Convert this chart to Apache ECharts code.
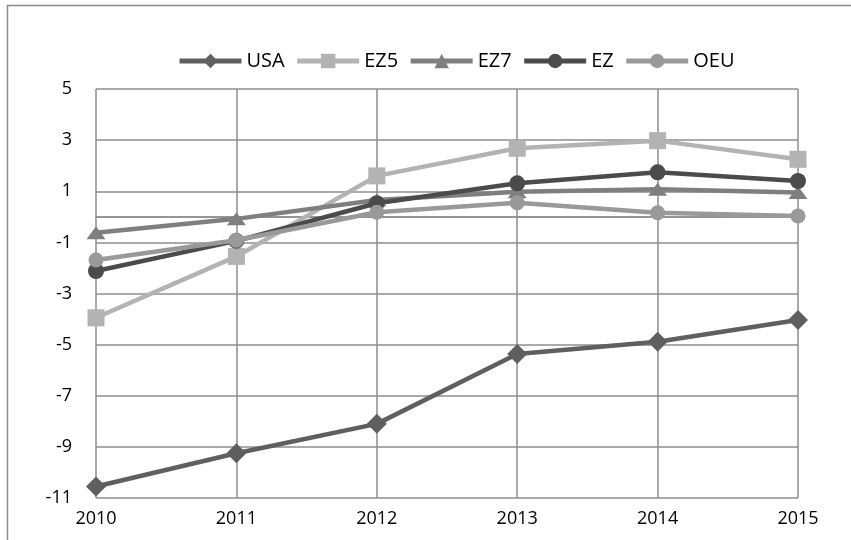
<!DOCTYPE html>
<html>
<head>
<meta charset="utf-8">
<script src="https://cdn.jsdelivr.net/npm/echarts@6/dist/echarts.min.js"></script>
<style>
  html, body { margin: 0; padding: 0; background: #fff; }
  #chart { width: 851px; height: 540px; }
</style>
</head>
<body>
<div id="chart"></div>
<script>
// Years on the horizontal axis
const years = ['2010', '2011', '2012', '2013', '2014', '2015'];

// Balance values per region
const usa = [-10.55, -9.25, -8.1, -5.37, -4.89, -4.04];
const ez5 = [-3.95, -1.55, 1.6, 2.68, 2.98, 2.25];
const ez7 = [-0.62, -0.08, 0.66, 0.98, 1.08, 0.95];
const ez  = [-2.12, -0.94, 0.53, 1.31, 1.74, 1.4];
const oeu = [-1.69, -0.92, 0.18, 0.55, 0.16, 0.03];

const seriesNames = ['USA', 'EZ5', 'EZ7', 'EZ', 'OEU'];
const seriesData = [usa, ez5, ez7, ez, oeu];
const seriesColors = ['#5f5f5f', '#b3b3b3', '#7f7f7f', '#4b4b4b', '#999999'];
const seriesSymbols = ['diamond', 'rect', 'triangle', 'circle', 'circle'];
const symbolSizes = [20, 17, [19, 13], 16, 15];

const fontFamily = '"Open Sans", "Noto Sans", sans-serif';
const gridColor = '#8e8e8e';

const chart = echarts.init(document.getElementById('chart'), null, { renderer: 'canvas' });

const series = seriesNames.map((name, i) => ({
  name: name,
  type: 'line',
  data: seriesData[i],
  symbol: seriesSymbols[i],
  symbolSize: symbolSizes[i],
  showAllSymbol: true,
  lineStyle: { color: seriesColors[i], width: 4.5 },
  itemStyle: { color: seriesColors[i] },
  emphasis: { disabled: true },
  z: 3 + i
}));

// Zero reference line
series[0].markLine = {
  silent: true,
  symbol: ['none', 'none'],
  label: { show: false },
  lineStyle: { color: gridColor, width: 1.5, type: 'solid' },
  data: [{ yAxis: 0 }],
  z: 1
};

chart.setOption({
  animation: false,
  backgroundColor: '#ffffff',
  graphic: [{
    type: 'rect',
    shape: { x: 7.5, y: 5.5, width: 900, height: 600 },
    style: { fill: 'none', stroke: '#8a8a8a', lineWidth: 1.5 },
    silent: true,
    z: -1
  }],
  legend: {
    top: 46,
    left: 172,
    itemWidth: 62,
    itemHeight: 18,
    itemGap: 10,
    lineStyle: { width: 5 },
    textStyle: { fontFamily: fontFamily, fontSize: 20, color: '#000' },
    data: seriesNames
  },
  grid: { left: 96, right: 53, top: 89, bottom: 42 },
  xAxis: {
    type: 'category',
    data: years,
    boundaryGap: false,
    axisLine: { lineStyle: { color: gridColor, width: 1.5 } },
    axisTick: { show: false },
    axisLabel: { fontFamily: fontFamily, fontSize: 18, color: '#000', margin: 12 },
    splitLine: { show: true, lineStyle: { color: gridColor, width: 1.5 } }
  },
  yAxis: {
    type: 'value',
    min: -11,
    max: 5,
    interval: 2,
    axisLine: { show: false },
    axisTick: { show: false },
    axisLabel: { fontFamily: fontFamily, fontSize: 18, color: '#000', margin: 24 },
    splitLine: { show: true, lineStyle: { color: gridColor, width: 1.5 } }
  },
  series: series
});
</script>
</body>
</html>
